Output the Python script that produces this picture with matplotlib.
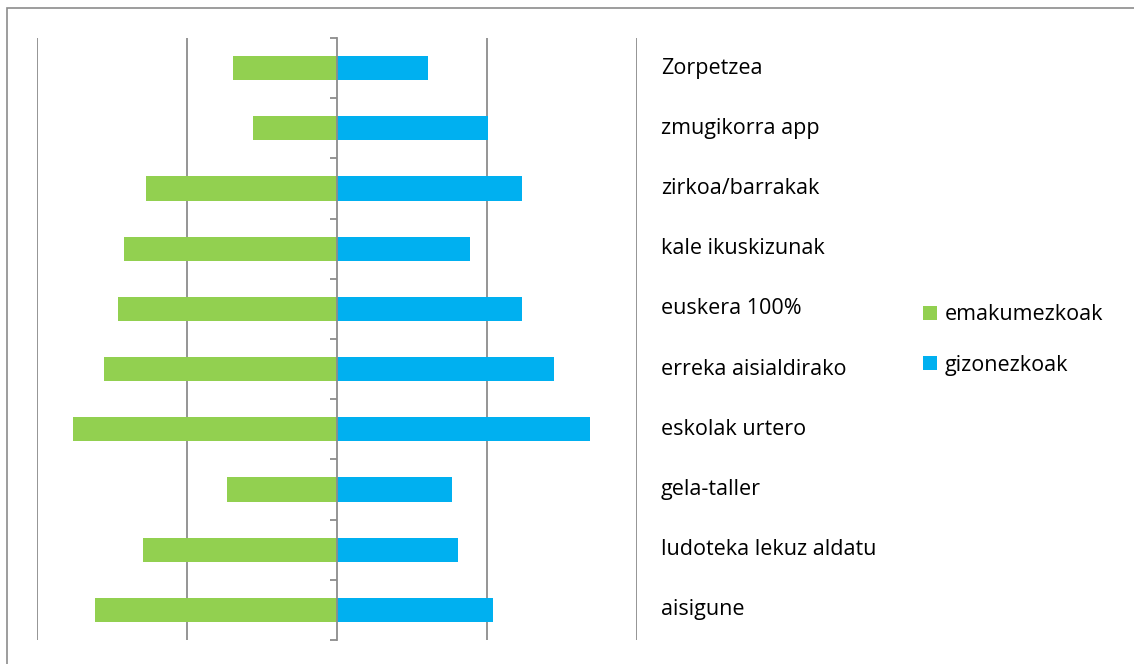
import matplotlib
matplotlib.use("Agg")
import matplotlib.pyplot as plt
from matplotlib.patches import Rectangle, Patch

categories = ["Zorpetzea", "zmugikorra app", "zirkoa/barrakak", "kale ikuskizunak",
              "euskera 100%", "erreka aisialdirako", "eskolak urtero", "gela-taller",
              "ludoteka lekuz aldatu", "aisigune"]
emakumezkoak = [6.9, 5.6, 12.7, 14.2, 14.6, 15.5, 17.6, 7.3, 12.9, 16.1]
gizonezkoak = [6.1, 10.1, 12.3, 8.9, 12.3, 14.5, 16.9, 7.7, 8.1, 10.4]
series_names = ["emakumezkoak", "gizonezkoak"]

GREEN = "#92D050"
BLUE = "#00B0F0"
GRID = "#8C8C8C"

plt.rcParams['font.family'] = ['Open Sans', 'DejaVu Sans']

W, H = 1134, 664
fig = plt.figure(figsize=(W / 100, H / 100), dpi=100)

# outer chart border (extends past right/bottom edges)
fig.patches.append(Rectangle((7 / W, -0.1), 1.2, 1 - 8 / H + 0.1,
                             transform=fig.transFigure, fill=False,
                             edgecolor="#8C8C8C", linewidth=1.2))

ax = fig.add_axes([37 / W, (H - 640) / H, 600 / W, 602 / H])

n = len(categories)
ypos = [n - 1 - i for i in range(n)]
bh = 0.4
ax.barh(ypos, [-v for v in emakumezkoak], height=bh, color=GREEN, zorder=2)
ax.barh(ypos, gizonezkoak, height=bh, color=BLUE, zorder=2)

ax.set_xlim(-20, 20)
ax.set_ylim(-0.5, n - 0.5)

for gx in [-20, -10, 10, 20]:
    ax.axvline(gx, color=GRID, linewidth=1.3, zorder=1)

for s in ["top", "right", "bottom"]:
    ax.spines[s].set_visible(False)
ax.spines["left"].set_position(("data", 0))
ax.spines["left"].set_color(GRID)
ax.spines["left"].set_linewidth(1.3)
ax.spines["left"].set_zorder(3)
ax.set_yticks([k - 0.5 for k in range(n + 1)])
ax.set_yticklabels([])
ax.tick_params(axis="y", direction="out", length=5, width=1.3, color=GRID)
ax.set_xticks([])

FS = 15.5
for y, lab in zip(ypos, categories):
    ax.text(21.6, y, lab, va="center", ha="left", fontsize=FS, color="#000000",
            clip_on=False)

handles = [Patch(facecolor=GREEN, edgecolor="none"), Patch(facecolor=BLUE, edgecolor="none")]
fig.legend(handles, series_names, loc="center left",
           bbox_to_anchor=(923 / W, 1 - 340 / H), frameon=False, fontsize=FS,
           handlelength=0.65, handleheight=0.65, handletextpad=0.36,
           labelspacing=1.35, borderaxespad=0, borderpad=0)

fig.savefig("out.png", dpi=100)
